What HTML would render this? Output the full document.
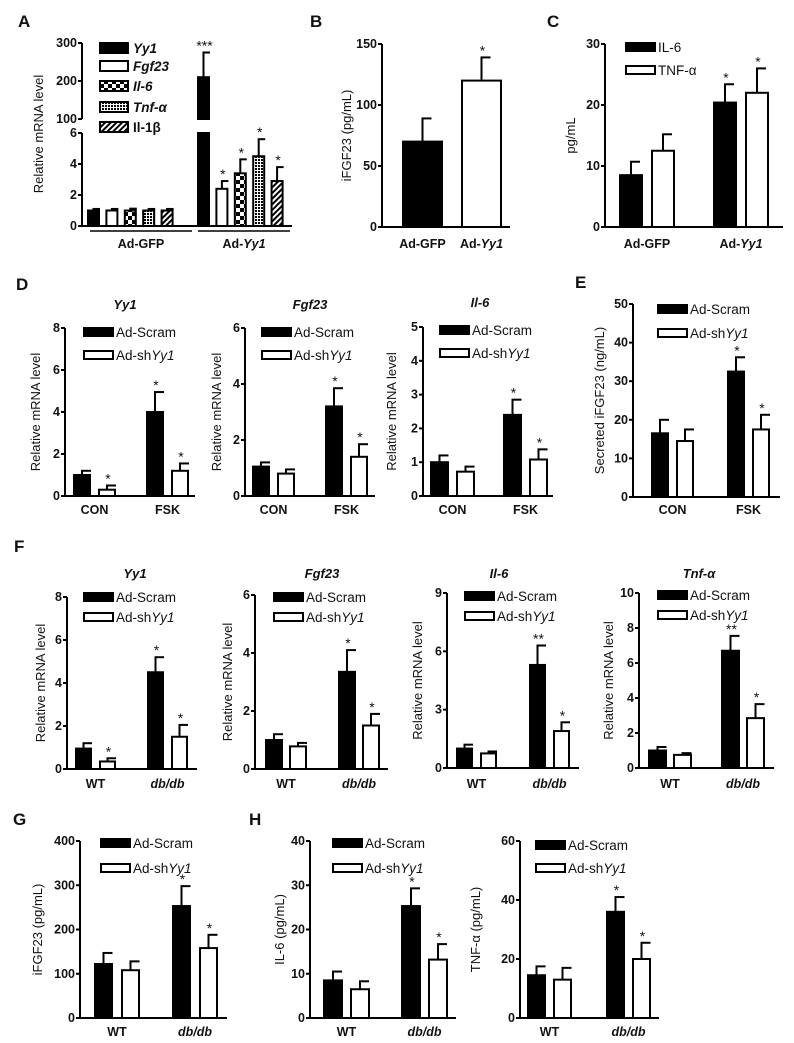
<!DOCTYPE html>
<html><head><meta charset="utf-8"><style>
html,body{margin:0;padding:0;background:#fff;}
svg{display:block;font-family:"Liberation Sans",Arial,sans-serif;}
</style></head><body>
<svg id="fig" width="794" height="1043" viewBox="0 0 794 1043">
<defs>
<pattern id="pCheck" width="8" height="8" patternUnits="userSpaceOnUse"><rect width="8" height="8" fill="#fff"/><rect width="4" height="4" fill="#000"/><rect x="4" y="4" width="4" height="4" fill="#000"/></pattern>
<pattern id="pCross" width="3" height="3" patternUnits="userSpaceOnUse"><rect width="3" height="3" fill="#fff"/><rect width="2" height="2" fill="#000"/></pattern>
<pattern id="pDiag" width="4" height="4" patternUnits="userSpaceOnUse" patternTransform="rotate(45)"><rect width="4" height="4" fill="#fff"/><rect width="2" height="4" fill="#000"/></pattern>
</defs>
</svg>
<script>
// ---------- Panel A data ----------
const aGenes = ['_Yy1_','_Fgf23_','_Il-6_','_Tnf-α_','Il-1β'];
const aGroups = ['Ad-GFP','Ad-_Yy1_'];
const aGfpVals = [1.0,1.0,1.0,1.0,1.0];
const aGfpErr = [0.1,0.1,0.12,0.1,0.1];
const aYy1Vals = [210,2.4,3.4,4.5,2.9];
const aYy1Err = [65,0.5,0.9,1.1,0.9];
const aYy1Sig = ['***','*','*','*','*'];
const aTicksLow = [0,2,4,6];
const aTicksHigh = [100,200,300];
// ---------- Panel B ----------
const bCats = ['Ad-GFP','Ad-_Yy1_'];
const bVals = [70,120];
const bErr = [19,19];
const bSig = ['','*'];
const bTicks = [0,50,100,150];
// ---------- Panel C ----------
const cCats = ['Ad-GFP','Ad-_Yy1_'];
const cIl6 = [8.5,20.4];
const cIl6Err = [2.2,3.0];
const cTnf = [12.5,22];
const cTnfErr = [2.7,4.0];
const cSigIl6 = ['','*'];
const cSigTnf = ['','*'];
const cTicks = [0,10,20,30];
// ---------- Panel D ----------
const dCats = ['CON','FSK'];
const d1Scram = [1.0,4.0];
const d1ScramErr = [0.2,0.95];
const d1Sh = [0.3,1.2];
const d1ShErr = [0.2,0.35];
const d1SigScram = ['','*'];
const d1SigSh = ['*','*'];
const d1Ticks = [0,2,4,6,8];
const d2Scram = [1.05,3.2];
const d2ScramErr = [0.15,0.65];
const d2Sh = [0.8,1.4];
const d2ShErr = [0.15,0.45];
const d2SigScram = ['','*'];
const d2SigSh = ['','*'];
const d2Ticks = [0,2,4,6];
const d3Scram = [1.0,2.4];
const d3ScramErr = [0.2,0.45];
const d3Sh = [0.72,1.08];
const d3ShErr = [0.15,0.3];
const d3SigScram = ['','*'];
const d3SigSh = ['','*'];
const d3Ticks = [0,1,2,3,4,5];
// ---------- Panel E ----------
const eScram = [16.5,32.5];
const eScramErr = [3.5,3.7];
const eSh = [14.5,17.5];
const eShErr = [3.0,3.8];
const eSigScram = ['','*'];
const eSigSh = ['','*'];
const eTicks = [0,10,20,30,40,50];
// ---------- Panel F ----------
const fCats = ['WT','_db/db_'];
const f1Scram = [0.95,4.5];
const f1ScramErr = [0.25,0.7];
const f1Sh = [0.35,1.5];
const f1ShErr = [0.15,0.55];
const f1SigScram = ['','*'];
const f1SigSh = ['*','*'];
const f1Ticks = [0,2,4,6,8];
const f2Scram = [1.0,3.35];
const f2ScramErr = [0.2,0.75];
const f2Sh = [0.78,1.5];
const f2ShErr = [0.12,0.4];
const f2SigScram = ['','*'];
const f2SigSh = ['','*'];
const f2Ticks = [0,2,4,6];
const f3Scram = [1.0,5.3];
const f3ScramErr = [0.2,1.0];
const f3Sh = [0.75,1.9];
const f3ShErr = [0.1,0.45];
const f3SigScram = ['','**'];
const f3SigSh = ['','*'];
const f3Ticks = [0,3,6,9];
const f4Scram = [1.0,6.7];
const f4ScramErr = [0.2,0.85];
const f4Sh = [0.75,2.85];
const f4ShErr = [0.1,0.8];
const f4SigScram = ['','**'];
const f4SigSh = ['','*'];
const f4Ticks = [0,2,4,6,8,10];
// ---------- Panel G / H ----------
const gScram = [122,253];
const gScramErr = [25,45];
const gSh = [108,158];
const gShErr = [20,30];
const gSigScram = ['','*'];
const gSigSh = ['','*'];
const gTicks = [0,100,200,300,400];
const h1Scram = [8.5,25.3];
const h1ScramErr = [2.0,4.0];
const h1Sh = [6.5,13.2];
const h1ShErr = [1.8,3.5];
const h1SigScram = ['','*'];
const h1SigSh = ['','*'];
const h1Ticks = [0,10,20,30,40];
const h2Scram = [14.5,36];
const h2ScramErr = [3.0,5.0];
const h2Sh = [13,20];
const h2ShErr = [4.0,5.5];
const h2SigScram = ['','*'];
const h2SigSh = ['','*'];
const h2Ticks = [0,20,40,60];

const NS = 'http://www.w3.org/2000/svg';
const svg = document.getElementById('fig');
function mk(tag, attrs, parent){
  const e = document.createElementNS(NS, tag);
  for (const k in attrs) e.setAttribute(k, attrs[k]);
  (parent||svg).appendChild(e);
  return e;
}
function txt(parent, x, y, str, anchor, size, weight){
  const t = mk('text', {x:x, y:y, 'text-anchor':anchor||'start', 'font-size':size||12, 'font-weight':weight||'bold', fill:'#111'}, parent);
  const parts = String(str).split('_');
  parts.forEach((p,i)=>{ if(!p) return; const s = mk('tspan', {}, t); if(i%2===1) s.setAttribute('font-style','italic'); s.textContent = p; });
  return t;
}
function line(parent,x1,y1,x2,y2,w){ return mk('line',{x1:x1,y1:y1,x2:x2,y2:y2,stroke:'#000','stroke-width':w||2},parent); }

function bar(parent, x, w, yTopPx, yBase, fill, v, err, ysc, sig){
  const r = mk('rect',{x:x+1,y:yTopPx,width:w-2,height:Math.max(0,yBase-yTopPx),fill:fill,stroke:'#000','stroke-width':2},parent);
  
  
  const cx = x + w/2;
  const ye = ysc(v+err);
  const el = line(parent,cx,yTopPx,cx,ye,2);
  
  
  const cap = line(parent,cx-1,ye,cx+Math.min(9,w/2),ye,2);
  
  
  if (sig){
    const s = txt(parent,cx+1,ye-2,sig,'middle',14,'normal');
    
    
  }
}

function letter(L,x,y){
  const t = txt(svg,x,y,L,'start',17,'bold');
  
  
}

function panel(cfg){
  const g = mk('g',{});
  
  
  const ysc = v => cfg.y0 - v/cfg.max*(cfg.y0-cfg.yTop);
  const ax = line(g,cfg.ax,cfg.yTop,cfg.ax,cfg.y0+1,2);
  
  
  const xa = line(g,cfg.ax-1,cfg.y0,cfg.xEnd,cfg.y0,2);
  
  
  cfg.ticks.forEach(tv=>{
    const y = ysc(tv);
    line(g,cfg.ax-4,y,cfg.ax,y,2);
    const t = txt(g,cfg.ax-5,y+4,tv,'end',12.5,'bold');
    
    
  });
  const yt = txt(g,0,0,cfg.ytitle,'middle',13,'normal');
  yt.setAttribute('transform','translate('+cfg.tx+','+((cfg.y0+cfg.yTop)/2)+') rotate(-90)');
  
  
  if (cfg.title){
    const tt = txt(g,cfg.titleX,cfg.titleY,cfg.title,'middle',13,'bold');
    
    
  }
  cfg.series.forEach((s,si)=>{
    cfg.cats.forEach((c,ci)=>{
      const x = cfg.first + ci*cfg.gStep + si*(cfg.sStep||0);
      const fill = cfg.fills ? cfg.fills[ci] : s.fill;
      bar(g,x,cfg.w,ysc(s.vals[ci]),cfg.y0,fill,s.vals[ci],s.errs[ci],ysc,s.sig[ci]);
    });
  });
  const ns = cfg.series.length;
  cfg.cats.forEach((c,ci)=>{
    const x0 = cfg.first + ci*cfg.gStep;
    const cx = ns>1 ? x0 + ((ns-1)*cfg.sStep + cfg.w)/2 : x0 + cfg.w/2;
    const t = txt(g,cx,cfg.catY,c,'middle',12.5,'bold');
    
    
  });
  if (cfg.legend){
    cfg.legend.labels.forEach((lb,i)=>{
      const y = cfg.legend.ys[i];
      const sw = mk('rect',{x:cfg.legend.x+1,y:y-4,width:29,height:8,fill:cfg.series[i].fill,stroke:'#000','stroke-width':2},g);
      
      
      const t = txt(g,cfg.legend.x+33,y+5,lb,'start',13.5,'normal');
      
      
    });
  }
}
function two(bv,be,bs,wv,we,ws){
  return [{vals:bv,errs:be,sig:bs,fill:'#000'},{vals:wv,errs:we,sig:ws,fill:'#fff'}];
}
const scramLbl = ['Ad-Scram','Ad-sh_Yy1_'];

// ---------- Panel A (broken axis) ----------
(function(){
  const g = mk('g',{});
  
  
  const y0 = 226, yLowTop = 133, yHighBot = 119, yHighTop = 43, ax = 82;
  const ysc = v => v <= 6 ? y0 - v*(y0-yLowTop)/6 : yHighBot - (v-100)*(yHighBot-yHighTop)/200;
  const a1 = line(g,ax,yHighTop,ax,yHighBot,2);
  
  
  const a2 = line(g,ax,yLowTop,ax,y0+1,2);
  
  
  const xa = line(g,ax-1,y0,292,y0,2);
  
  
  aTicksLow.concat(aTicksHigh).forEach(tv=>{
    const y = ysc(tv);
    line(g,ax-4,y,ax,y,2);
    const t = txt(g,ax-5,y+4,tv,'end',12.5,'bold');
    
    
  });
  const yt = txt(g,0,0,'Relative mRNA level','middle',13,'normal');
  yt.setAttribute('transform','translate(43,134) rotate(-90)');
  
  
  const fills = ['#000','#fff','url(#pCheck)','url(#pCross)','url(#pDiag)'];
  const first = 87, w = 13, step = 18.4, gStep = 110;
  aGenes.forEach((gn,i)=>{
    bar(g,first+i*step,w,ysc(aGfpVals[i]),y0,fills[i],aGfpVals[i],aGfpErr[i],ysc,'');
    const x = first+gStep+i*step;
    const v = aYy1Vals[i];
    if (v > 6){
      const lo = mk('rect',{x:x+1,y:yLowTop,width:w-2,height:y0-yLowTop,fill:fills[i],stroke:'#000','stroke-width':2},g);
      
      
      bar(g,x,w,ysc(v),yHighBot,fills[i],v,aYy1Err[i],ysc,aYy1Sig[i]);
    } else {
      bar(g,x,w,ysc(v),y0,fills[i],v,aYy1Err[i],ysc,aYy1Sig[i]);
    }
  });
  const u1 = line(g,90,231,192,231,1.5);
  
  
  const u2 = line(g,198,231,290,231,1.5);
  
  
  const c1 = txt(g,141,248,aGroups[0],'middle',12.5,'bold');
  
  
  const c2 = txt(g,244,248,aGroups[1],'middle',12.5,'bold');
  
  
  const lys = [48,66,86,107,127];
  aGenes.forEach((gn,i)=>{
    const sw = mk('rect',{x:100,y:lys[i]-5,width:28,height:10,fill:fills[i],stroke:'#000','stroke-width':2},g);
    
    
    const t = txt(g,133,lys[i]+5,gn,'start',13.5,'bold');
    
    
  });
})();

letter('A',18,27); letter('B',310,27); letter('C',547,27);
letter('D',16,290); letter('E',575,288); letter('F',14,552);
letter('G',13,825); letter('H',249,825);

panel({name:'panel-b-chart',ax:382,y0:227,yTop:44,max:150,ticks:bTicks,xEnd:510,first:402,w:41,gStep:59,
  cats:bCats,fills:['#000','#fff'],series:[{vals:bVals,errs:bErr,sig:bSig,fill:'#000'}],ytitle:'iFGF23 (pg/mL)',tx:351,catY:248});
panel({name:'panel-c-chart',ax:605,y0:227,yTop:44,max:30,ticks:cTicks,xEnd:783,first:619,w:24,sStep:32,gStep:94,
  cats:cCats,series:two(cIl6,cIl6Err,cSigIl6,cTnf,cTnfErr,cSigTnf),ytitle:'pg/mL',tx:575,catY:248,
  legend:{x:625,ys:[47,70],labels:['IL-6','TNF-α']}});
panel({name:'panel-d-yy1-chart',ax:65,y0:496,yTop:328,max:8,ticks:d1Ticks,xEnd:195,first:73,w:18,sStep:25,gStep:73,
  cats:dCats,series:two(d1Scram,d1ScramErr,d1SigScram,d1Sh,d1ShErr,d1SigSh),ytitle:'Relative mRNA level',tx:40,catY:514,
  title:'_Yy1_',titleX:125,titleY:309,legend:{x:83,ys:[332,355],labels:scramLbl}});
panel({name:'panel-d-fgf23-chart',ax:245,y0:496,yTop:328,max:6,ticks:d2Ticks,xEnd:375,first:252,w:18,sStep:25,gStep:73,
  cats:dCats,series:two(d2Scram,d2ScramErr,d2SigScram,d2Sh,d2ShErr,d2SigSh),ytitle:'Relative mRNA level',tx:221,catY:514,
  title:'_Fgf23_',titleX:310,titleY:309,legend:{x:261,ys:[332,355],labels:scramLbl}});
panel({name:'panel-d-il6-chart',ax:423,y0:496,yTop:327,max:5,ticks:d3Ticks,xEnd:553,first:430,w:19,sStep:26,gStep:73,
  cats:dCats,series:two(d3Scram,d3ScramErr,d3SigScram,d3Sh,d3ShErr,d3SigSh),ytitle:'Relative mRNA level',tx:396,catY:514,
  title:'_Il-6_',titleX:480,titleY:307,legend:{x:439,ys:[330,353],labels:scramLbl}});
panel({name:'panel-e-chart',ax:633,y0:497,yTop:304,max:50,ticks:eTicks,xEnd:780,first:651,w:18,sStep:25,gStep:76,
  cats:dCats,series:two(eScram,eScramErr,eSigScram,eSh,eShErr,eSigSh),ytitle:'Secreted iFGF23 (ng/mL)',tx:604,catY:514,
  legend:{x:657,ys:[309,333],labels:scramLbl}});
panel({name:'panel-f-yy1-chart',ax:67,y0:769,yTop:597,max:8,ticks:f1Ticks,xEnd:197,first:75,w:17,sStep:24,gStep:72,
  cats:fCats,series:two(f1Scram,f1ScramErr,f1SigScram,f1Sh,f1ShErr,f1SigSh),ytitle:'Relative mRNA level',tx:45,catY:788,
  title:'_Yy1_',titleX:135,titleY:578,legend:{x:83,ys:[597,617],labels:scramLbl}});
panel({name:'panel-f-fgf23-chart',ax:255,y0:769,yTop:595,max:6,ticks:f2Ticks,xEnd:388,first:265,w:18,sStep:24,gStep:73,
  cats:fCats,series:two(f2Scram,f2ScramErr,f2SigScram,f2Sh,f2ShErr,f2SigSh),ytitle:'Relative mRNA level',tx:232,catY:788,
  title:'_Fgf23_',titleX:322,titleY:578,legend:{x:273,ys:[597,617],labels:scramLbl}});
panel({name:'panel-f-il6-chart',ax:447,y0:768,yTop:593,max:9,ticks:f3Ticks,xEnd:579,first:456,w:17,sStep:24,gStep:73,
  cats:fCats,series:two(f3Scram,f3ScramErr,f3SigScram,f3Sh,f3ShErr,f3SigSh),ytitle:'Relative mRNA level',tx:422,catY:788,
  title:'_Il-6_',titleX:499,titleY:578,legend:{x:464,ys:[596,616],labels:scramLbl}});
panel({name:'panel-f-tnf-chart',ax:639,y0:768,yTop:593,max:10,ticks:f4Ticks,xEnd:774,first:648,w:19,sStep:25,gStep:73,
  cats:fCats,series:two(f4Scram,f4ScramErr,f4SigScram,f4Sh,f4ShErr,f4SigSh),ytitle:'Relative mRNA level',tx:613,catY:788,
  title:'_Tnf-α_',titleX:699,titleY:578,legend:{x:657,ys:[595,615],labels:scramLbl}});
panel({name:'panel-g-chart',ax:80,y0:1018,yTop:841,max:400,ticks:gTicks,xEnd:227,first:94,w:19,sStep:27,gStep:78,
  cats:fCats,series:two(gScram,gScramErr,gSigScram,gSh,gShErr,gSigSh),ytitle:'iFGF23 (pg/mL)',tx:42,catY:1036,
  legend:{x:100,ys:[843,868],labels:scramLbl}});
panel({name:'panel-h-il6-chart',ax:310,y0:1018,yTop:841,max:40,ticks:h1Ticks,xEnd:456,first:323,w:20,sStep:27,gStep:78,
  cats:fCats,series:two(h1Scram,h1ScramErr,h1SigScram,h1Sh,h1ShErr,h1SigSh),ytitle:'IL-6 (pg/mL)',tx:284,catY:1036,
  legend:{x:332,ys:[843,868],labels:scramLbl}});
panel({name:'panel-h-tnf-chart',ax:520,y0:1018,yTop:841,max:60,ticks:h2Ticks,xEnd:659,first:527,w:19,sStep:26,gStep:79,
  cats:fCats,series:two(h2Scram,h2ScramErr,h2SigScram,h2Sh,h2ShErr,h2SigSh),ytitle:'TNF-α (pg/mL)',tx:480,catY:1036,
  legend:{x:535,ys:[845,868],labels:scramLbl}});
</script>
</body></html>
